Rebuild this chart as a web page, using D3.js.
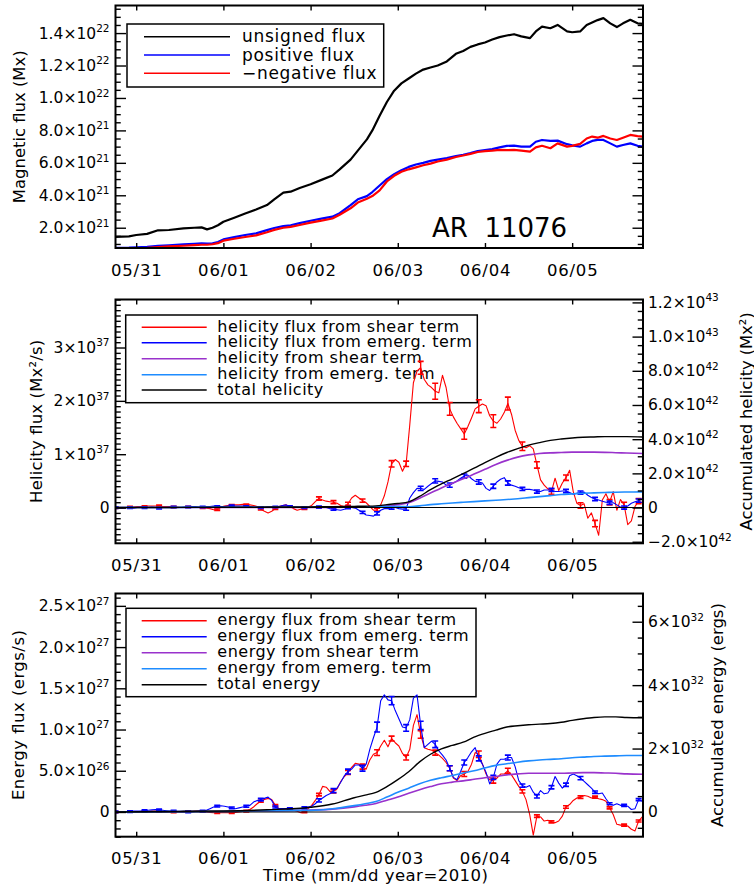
<!DOCTYPE html>
<html><head><meta charset="utf-8">
<script src="https://cdn.jsdelivr.net/npm/d3@7"></script>
<style>
html,body{margin:0;padding:0;background:#fff;}
svg{display:block;}
</style></head><body>
<svg id="chart" width="754" height="888"></svg>
<script>
// ---------------- data (time in hours from 2010-05-31 00:00) ----------------
const dayTicks  = [0, 24, 48, 72, 96, 120];
const dayLabels = ["05/31", "06/01", "06/02", "06/03", "06/04", "06/05"];

// Panel 1: magnetic flux, units of 1e21 Mx
const fluxHours = [-5.7,-2,0,3,6,9,13,16,18,19.5,21,22.5,24,27,30,33,36,38,40.5,42.5,45,48,51,54,56,59,61,63.5,65,67,69,71,73,75,77,79,81,83,85.5,88,90,92,94,96,98,100,102,104,106,108.4,110,111.7,114,116,118.6,120,122.2,124,125.5,127,128.6,130.5,132.3,134,136,138,139.5];
const unsignedFlux = [1.44,1.47,1.55,1.62,1.84,1.86,1.96,2.00,2.02,1.90, 2.00,2.15,2.37,2.62,2.88,3.12,3.40,3.75,4.16,4.22, 4.45,4.68,4.95,5.22,5.60,6.20,6.75,7.45,8.00,8.90, 9.75,10.45,10.90,11.20,11.50,11.75,11.88,12.00,12.25,12.72, 12.90,13.15,13.30,13.42,13.60,13.75,13.85,13.93,13.80,13.69, 14.10,14.40,14.30,14.50,14.10,14.05,14.10,14.50,14.65,14.80, 14.92,14.60,14.37,14.60,14.82,14.60,14.57];
const positiveFlux = [0.76,0.77,0.79,0.82,0.88,0.92,0.98,1.01,1.03,1.02, 1.04,1.12,1.28,1.42,1.55,1.65,1.85,1.98,2.10,2.15, 2.28,2.43,2.56,2.68,2.90,3.40,3.75,3.95,4.20,4.60, 5.00,5.30,5.55,5.75,5.90,6.00,6.12,6.20,6.30,6.42, 6.50,6.60,6.72,6.78,6.85,6.95,7.05,7.06,7.00,7.00, 7.30,7.41,7.35,7.37,7.15,7.08,7.00,7.20,7.35,7.42, 7.41,7.20,7.00,7.10,7.20,7.05,7.00];
const negativeFlux = [0.70,0.72,0.73,0.76,0.81,0.85,0.89,0.93,0.95,0.95, 0.98,1.05,1.20,1.32,1.43,1.53,1.72,1.87,2.00,2.05, 2.17,2.31,2.44,2.57,2.80,3.20,3.55,3.78,3.95,4.30, 4.85,5.20,5.45,5.60,5.72,5.85,5.95,6.08,6.20,6.36, 6.45,6.55,6.67,6.72,6.75,6.80,6.78,6.80,6.75,6.69, 6.95,7.05,6.90,7.20,7.00,7.05,7.17,7.50,7.62,7.55, 7.66,7.50,7.41,7.55,7.72,7.65,7.62];

// Hourly rate series start here; error bars on every 4th sample
const rateStart = -5.7;
const errStep = 4;

// Panel 2: helicity flux, units of 1e37 Mx^2/s
const helShearRate = [0.00,-0.01,-0.01,0.00,0.01,0.01,0.02,0.02,0.02,0.03, 0.03,0.03,0.03,0.02,0.02,0.02,0.01,0.01,0.00,0.00, 0.01,0.00,0.00,0.00,0.00,-0.01,-0.02,-0.04,-0.04,0.01, 0.03,0.04,0.04,0.05,0.05,0.06,0.05,0.05,0.04,0.02, -0.03,-0.07,-0.10,-0.07,-0.02,0.02,0.04,0.05,0.02,-0.02, -0.05,-0.03,-0.02,0.01,0.04,0.11,0.17,0.14,0.12,0.11, 0.10,0.08,0.04,0.02,0.07,0.18,0.23,0.18,0.13,0.09, 0.02,-0.05,-0.04,0.05,0.22,0.48,0.82,0.90,0.85,0.68, 0.82,1.55,2.34,2.56,2.62,2.40,2.30,2.25,2.18,2.15, 2.48,2.25,1.85,1.70,1.58,1.48,1.38,1.52,1.68,1.85, 1.90,1.94,1.91,1.72,1.62,1.58,1.66,1.78,1.95,1.75, 1.45,1.26,1.15,1.12,1.16,1.10,0.80,0.52,0.42,0.35, 0.30,0.55,0.32,0.46,0.56,0.70,0.30,0.08,0.04,0.07, -0.20,-0.10,-0.30,-0.52,0.14,0.26,0.10,0.30,-0.05,0.15, 0.05,-0.32,-0.25,0.02,0.12,0.09];
const helEmergRate = [0.00,-0.01,-0.01,0.00,0.00,-0.01,0.00,0.01,0.00,0.00, 0.01,0.00,-0.01,0.00,0.00,0.01,0.01,0.00,0.00,0.01, 0.01,0.02,0.02,0.01,0.01,0.02,0.02,0.03,0.02,0.02, 0.02,0.03,0.03,0.03,0.03,0.03,0.02,0.02,0.01,0.01, 0.00,0.00,0.01,0.01,0.01,0.02,0.04,0.05,0.02,0.00, 0.00,0.00,0.00,0.00,0.00,0.01,0.01,0.01,0.00,-0.02, -0.03,-0.04,-0.05,-0.03,0.00,0.00,-0.01,-0.05,-0.09,-0.14, -0.15,-0.16,-0.11,-0.05,-0.02,-0.02,0.00,0.00,-0.02,-0.03, -0.02,0.18,0.28,0.36,0.36,0.34,0.40,0.45,0.50,0.49, 0.48,0.42,0.42,0.46,0.50,0.55,0.59,0.61,0.54,0.49, 0.48,0.46,0.36,0.32,0.40,0.48,0.53,0.56,0.46,0.42, 0.40,0.37,0.35,0.34,0.34,0.33,0.30,0.30,0.33,0.33, 0.33,0.30,0.30,0.31,0.31,0.28,0.25,0.27,0.28,0.29, 0.23,0.19,0.16,0.14,0.12,0.10,0.09,0.09,0.05,0.01, 0.00,0.03,0.08,0.11,0.13,0.16];
const helShearErr = [0.015,0.015,0.015,0.015,0.015,0.015,0.015,0.015,0.015,0.015,0.015,0.015,0.015,0.015, 0.03,0.03,0.03,0.03,0.03,0.06,0.05,0.12,0.15,0.12,0.10,0.12,0.12,0.12,0.08,0.06,0.05,0.05,0.05,0.06,0.05,0.05,0.05];
const helEmergErr = [0.015,0.015,0.015,0.015,0.015,0.015,0.015,0.015,0.015,0.015,0.015,0.015,0.015,0.015, 0.02,0.02,0.02,0.02,0.03,0.03,0.03,0.04,0.04,0.04,0.04,0.04,0.04,0.04,0.03,0.03,0.03,0.03,0.03,0.03,0.03,0.03,0.03];

// Accumulated quantities sampled at these hours
const accHours = [-5.7,0,12,24,36,48,54,60,63,66,69,72,75,78,81,84,87,90,93,96,99,102,105,108,111,114,117,120,123,126,129,132,135,139.5];
// units of 1e42 Mx^2
const helShearAcc = [0,0,0,0,0.01,0.01,0.01,0.02,0.03,0.05, 0.10,0.17,0.28,0.55,0.85,1.15,1.42,1.68,1.96,2.24, 2.52,2.76,2.95,3.08,3.16,3.20,3.22,3.24,3.24,3.24, 3.23,3.21,3.19,3.16];
const helEmergAcc = [0,0,0.01,0.02,0.02,0.02,0.02,0.03,0.04,0.05, 0.06,0.06,0.05,0.10,0.17,0.22,0.27,0.31,0.35,0.39, 0.43,0.47,0.52,0.58,0.64,0.70,0.76,0.80,0.84,0.86, 0.88,0.90,0.91,0.92];
const helTotalAcc = [0,0,0.01,0.02,0.03,0.04,0.05,0.07,0.08,0.10, 0.17,0.24,0.33,0.65,1.05,1.38,1.68,1.99,2.30,2.63, 2.94,3.22,3.45,3.65,3.80,3.93,4.01,4.07,4.11,4.13, 4.15,4.15,4.15,4.13];

// Panel 3: energy flux, units of 1e26 erg/s
const engShearRate = [0,0,0,0.05,0.05,0,0,0.05,0.05,0.05, 0.1,0.1,0.05,0,0,0,0,0,0,0, 0.05,0.05,0.1,0.1,0.05,0,-0.05,-0.1,-0.1,-0.1, -0.1,-0.1,-0.1,-0.05,0,0.05,0.1,0.3,0.6,1.0, 1.3,1.5,1.65,1.5,0.8,0.4,0.4,0.4,0.3,0.2, 0.1,-0.1,0.0,0.4,0.8,1.4,2.1,3.1,3.0,2.5, 2.5,2.8,3.7,4.3,4.8,5.4,5.9,5.8,5.5,5.2, 6.3,7.0,7.2,8.0,8.7,7.9,8.9,8.4,8.0,7.1, 6.6,7.6,10.5,11.8,9.4,7.8,7.6,7.5,7.2,6.9, 6.5,6.0,5.3,4.1,3.8,4.4,4.6,4.9,5.8,7.2, 7.0,5.8,4.6,3.9,3.8,4.1,4.6,4.6,5.0,4.5, 3.8,3.1,2.5,1.5,-0.3,-2.8,-0.5,-0.6,-1.1,-1.0, -1.2,-1.3,-1.1,-0.5,0.6,0.9,1.4,1.7,1.8,2.0, 1.9,1.7,1.8,1.6,1.5,1.3,0.5,-0.3,-1.5,-1.6, -1.6,-1.7,-2.1,-2.3,-1.1,-0.6];
const engEmergRate = [0,0,0,0.05,0.05,0.1,0.1,0.1,0.15,0.2, 0.25,0.3,0.25,0.2,0.15,0.1,0.1,0.05,0,0, 0,0,0.05,0.1,0.1,0.2,0.4,0.6,0.7,0.75, 0.7,0.6,0.5,0.4,0.5,0.6,0.7,0.8,1.2,1.4, 1.5,1.65,1.8,1.4,0.6,0.4,0.4,0.4,0.4,0.4, 0.4,0.4,0.5,0.6,0.7,1.0,1.4,1.7,2.0,2.2, 2.6,2.9,3.6,4.4,4.9,5.2,5.7,5.7,5.3,5.8, 7.6,9.0,10.3,13.5,14.2,13.6,13.5,12.3,11.3,10.3, 10.2,11.2,13.8,14.2,10.5,7.8,8.2,8.6,8.2,7.4, 6.9,6.3,5.3,4.2,3.9,4.9,6.0,6.6,7.3,7.8, 6.5,5.8,4.8,3.4,4.2,5.8,6.4,6.4,6.6,6.6, 5.5,3.8,3.2,3.0,3.2,2.4,1.9,2.6,2.2,2.3, 3.0,4.3,3.5,2.9,3.3,4.4,4.6,4.4,4.1,3.7, 3.3,2.9,2.4,2.2,2.3,1.6,1.0,0.8,1.0,0.8, 0.8,0.7,0.3,0.4,1.5,1.3];
const engShearErr = [0.08,0.08,0.08,0.08,0.08,0.08,0.08,0.08,0.08, 0.1,0.12,0.1,0.1,0.1,0.15,0.2,0.25,0.3,0.35,0.3,0.3,0.45,0.3,0.3,0.3,0.4,0.3,0.3,0.2,0.15,0.12,0.15,0.15,0.12,0.12,0.12,0.12];
const engEmergErr = [0.1,0.1,0.1,0.1,0.1,0.1,0.1,0.1,0.1, 0.12,0.15,0.12,0.12,0.12,0.2,0.25,0.3,0.35,0.6,0.5,0.4,0.5,0.4,0.3,0.3,0.3,0.25,0.3,0.2,0.2,0.2,0.2,0.2,0.15,0.12,0.12,0.12];
// units of 1e32 erg
const engShearAcc = [0,0.002,0.01,0.015,0.03,0.06,0.09,0.16,0.21,0.27, 0.37,0.47,0.59,0.70,0.80,0.89,0.94,0.98,1.03,1.08, 1.12,1.17,1.20,1.22,1.22,1.22,1.22,1.23,1.24,1.24, 1.23,1.22,1.20,1.19];
const engEmergAcc = [0,0.003,0.01,0.015,0.04,0.05,0.10,0.20,0.26,0.33, 0.47,0.62,0.75,0.89,1.00,1.08,1.15,1.23,1.30,1.39, 1.47,1.52,1.57,1.61,1.64,1.66,1.68,1.71,1.73,1.75, 1.76,1.77,1.78,1.78];
const engTotalAcc = [0,0.005,0.02,0.03,0.07,0.15,0.25,0.45,0.53,0.62, 0.80,1.02,1.27,1.58,1.82,1.99,2.10,2.20,2.36,2.48, 2.58,2.68,2.72,2.75,2.77,2.79,2.83,2.89,2.94,2.98, 3.00,3.00,2.98,2.97];

// Axis tick values and labels ("^" marks the exponent)
const fluxTicks = [2,4,6,8,10,12,14];
const fluxTickLabels = ["2.0×10^21","4.0×10^21","6.0×10^21","8.0×10^21","1.0×10^22","1.2×10^22","1.4×10^22"];
const helRateTicks = [0,1,2,3];
const helRateTickLabels = ["0","1×10^37","2×10^37","3×10^37"];
const helAccTicks = [-2,0,2,4,6,8,10,12];
const helAccTickLabels = ["−2.0×10^42","0","2.0×10^42","4.0×10^42","6.0×10^42","8.0×10^42","1.0×10^43","1.2×10^43"];
const engRateTicks = [0,5,10,15,20,25];
const engRateTickLabels = ["0","5.0×10^26","1.0×10^27","1.5×10^27","2.0×10^27","2.5×10^27"];
const engAccTicks = [0,2,4,6];
const engAccTickLabels = ["0","2×10^32","4×10^32","6×10^32"];

// Legends
const fluxLegend = [
  {label: "unsigned flux",  color: "#000000"},
  {label: "positive flux",  color: "#0000ff"},
  {label: "−negative flux", color: "#ff0000"}
];
const helLegend = [
  {label: "helicity flux from shear term",  color: "#ff0000"},
  {label: "helicity flux from emerg. term", color: "#0000ff"},
  {label: "helicity from shear term",       color: "#9932cc"},
  {label: "helicity from emerg. term",      color: "#1e8cff"},
  {label: "total helicity",                 color: "#000000"}
];
const engLegend = [
  {label: "energy flux from shear term",  color: "#ff0000"},
  {label: "energy flux from emerg. term", color: "#0000ff"},
  {label: "energy from shear term",       color: "#9932cc"},
  {label: "energy from emerg. term",      color: "#1e8cff"},
  {label: "total energy",                 color: "#000000"}
];

// ---------------- drawing ----------------
const FONT = '"DejaVu Sans", "Liberation Sans", sans-serif';
const RED = "#ff0000", BLUE = "#0000ff", PURPLE = "#9932cc", SKY = "#1e8cff";
const svg = d3.select("#chart").attr("font-family", FONT);

const X0 = 115.5, X1 = 643;
const x = d3.scaleLinear().domain([-5.7, 139.5]).range([X0, X1]);

const P1 = {top: 5.5, bottom: 248};
const P2 = {top: 299.5, bottom: 543.3};
const P3 = {top: 593.5, bottom: 836.7};

const y1  = d3.scaleLinear().domain([0.75, 15.7]).range([P1.bottom, P1.top]);
const y2L = d3.scaleLinear().domain([-0.67, 3.9]).range([P2.bottom, P2.top]);
const y2R = d3.scaleLinear().domain([-2.09, 12.17]).range([P2.bottom, P2.top]);
const y3L = d3.scaleLinear().domain([-3.0, 26.5]).range([P3.bottom, P3.top]);
const y3R = d3.scaleLinear().domain([-0.78, 6.89]).range([P3.bottom, P3.top]);

const MAJ_Y = 10.5, MIN_Y = 5.25, MAJ_X = 5;

function styleAxis(g, size) {
  g.select(".domain").remove();
  g.attr("font-family", FONT).attr("font-size", size);
  g.selectAll(".tick line").attr("stroke", "#000").attr("stroke-width", 1.4);
  g.selectAll(".tick text").attr("fill", "#000");
}
function superscripts(g) {
  g.selectAll(".tick text").each(function () {
    const t = d3.select(this);
    const s = t.text();
    if (!s) return;
    const parts = s.split("^");
    t.text(null);
    t.append("tspan").text(parts[0]);
    if (parts[1]) t.append("tspan").attr("font-size", 10.5).attr("dy", -6.5).text(parts[1]);
  });
}

function clip(id, p) {
  svg.append("clipPath").attr("id", id).append("rect")
    .attr("x", X0).attr("y", p.top).attr("width", X1 - X0).attr("height", p.bottom - p.top);
}

function timeAxes(p) {
  const gb = svg.append("g").attr("transform", `translate(0,${p.bottom})`)
    .call(d3.axisBottom(x).tickValues(dayTicks).tickFormat((d, i) => dayLabels[i])
      .tickSizeInner(-MAJ_X).tickSizeOuter(0).tickPadding(16));
  styleAxis(gb, 16.5);
  gb.selectAll(".tick text").attr("letter-spacing", 0.8);
  const gt = svg.append("g").attr("transform", `translate(0,${p.top})`)
    .call(d3.axisTop(x).tickValues(dayTicks).tickFormat("").tickSizeInner(-MAJ_X).tickSizeOuter(0));
  styleAxis(gt, 10);
}

function valueAxis(side, scale, majors, labels, minors, showLabels) {
  const make = side === "left" ? d3.axisLeft : d3.axisRight;
  const xpos = side === "left" ? X0 : X1;
  const gm = svg.append("g").attr("transform", `translate(${xpos},0)`)
    .call(make(scale).tickValues(minors.filter(v => !majors.includes(v)))
      .tickFormat("").tickSizeInner(-MIN_Y).tickSizeOuter(0));
  styleAxis(gm, 10);
  const g = svg.append("g").attr("transform", `translate(${xpos},0)`)
    .call(make(scale).tickValues(majors).tickFormat((d, i) => showLabels ? labels[i] : "")
      .tickSizeInner(-MAJ_Y).tickSizeOuter(0).tickPadding(side === "left" ? 6 : 5));
  styleAxis(g, 15.5);
  superscripts(g);
}

function frame(p) {
  svg.append("rect").attr("x", X0).attr("y", p.top).attr("width", X1 - X0).attr("height", p.bottom - p.top)
    .attr("fill", "none").attr("stroke", "#000").attr("stroke-width", 2);
}

function seriesLine(xs, ys, scale, color, width, clipId, smooth) {
  const gen = d3.line().x((d, i) => x(xs[i])).y(d => scale(d));
  if (smooth) gen.curve(d3.curveMonotoneX);
  svg.append("path").datum(ys).attr("d", gen)
    .attr("fill", "none").attr("stroke", color).attr("stroke-width", width)
    .attr("stroke-linejoin", "round").attr("clip-path", `url(#${clipId})`);
}

function rateLine(values, scale, color, clipId) {
  const hours = values.map((v, i) => rateStart + i);
  seriesLine(hours, values, scale, color, 1.1, clipId, false);
}

function errorBars(values, errs, scale, color, clipId) {
  const g = svg.append("g").attr("stroke", color).attr("clip-path", `url(#${clipId})`);
  const bars = g.selectAll("g").data(errs).join("g")
    .attr("transform", (e, i) => `translate(${x(rateStart + i * errStep)},0)`);
  bars.append("line").attr("y1", (e, i) => scale(values[i * errStep] - e))
    .attr("y2", (e, i) => scale(values[i * errStep] + e)).attr("stroke-width", 1.4);
  bars.append("line").attr("x1", -3).attr("x2", 3)
    .attr("y1", (e, i) => scale(values[i * errStep] - e)).attr("y2", (e, i) => scale(values[i * errStep] - e))
    .attr("stroke-width", 1.6);
  bars.append("line").attr("x1", -3).attr("x2", 3)
    .attr("y1", (e, i) => scale(values[i * errStep] + e)).attr("y2", (e, i) => scale(values[i * errStep] + e))
    .attr("stroke-width", 1.6);
}

function zeroLine(scale) {
  svg.append("line").attr("x1", X0).attr("x2", X1).attr("y1", scale(0)).attr("y2", scale(0))
    .attr("stroke", "#000").attr("stroke-width", 1.1);
}

// Legend box is unfilled so data drawn afterwards shows through it
function legend(entries, box, rowY, lineX, textX, size, spacing, dyText, lw) {
  svg.append("rect").attr("x", box[0]).attr("y", box[1]).attr("width", box[2] - box[0]).attr("height", box[3] - box[1])
    .attr("fill", "none").attr("stroke", "#000").attr("stroke-width", 1.5);
  const rows = svg.append("g").selectAll("g").data(entries).join("g")
    .attr("transform", (d, i) => `translate(0,${rowY[i]})`);
  rows.append("line").attr("x1", lineX[0]).attr("x2", lineX[1]).attr("y1", 0).attr("y2", 0)
    .attr("stroke", d => d.color).attr("stroke-width", lw);
  rows.append("text").attr("x", textX).attr("y", dyText).attr("font-size", size)
    .attr("letter-spacing", spacing).attr("fill", "#000").text(d => d.label);
}

function verticalTitle(text, xBase, yMid, len) {
  svg.append("text").attr("transform", `translate(${xBase},${yMid}) rotate(-90)`)
    .attr("text-anchor", "middle").attr("font-size", 16.5).attr("fill", "#000")
    .attr("textLength", len).attr("lengthAdjust", "spacing").text(text);
}

const half = h => d3.range(Math.round(h[0] * 2), Math.round(h[1] * 2) + 1).map(v => v / 2);
const tenth = h => d3.range(Math.round(h[0] * 10), Math.round(h[1] * 10) + 1).map(v => v / 10);

// ---- panel 1: magnetic flux ----
clip("c1", P1);
legend(fluxLegend, [127, 24, 383.7, 87], [36.7, 55, 73.3], [144, 230], 242, 17, 0.7, 5.5, 1.6);
seriesLine(fluxHours, unsignedFlux, y1, "#000", 2.2, "c1");
seriesLine(fluxHours, positiveFlux, y1, BLUE, 2.2, "c1");
seriesLine(fluxHours, negativeFlux, y1, RED, 2.2, "c1");
valueAxis("left", y1, fluxTicks, fluxTickLabels, half([1, 15.5]), true);
valueAxis("right", y1, fluxTicks, fluxTickLabels, half([1, 15.5]), false);
timeAxes(P1);
frame(P1);
svg.append("text").attr("x", 432).attr("y", 237.3).attr("font-size", 26).attr("fill", "#000")
  .text("AR\u00a0 11076");
verticalTitle("Magnetic flux (Mx)", 24.5, (P1.top + P1.bottom) / 2, 153);

// ---- panel 2: helicity ----
clip("c2", P2);
legend(helLegend, [125.7, 315, 477.3, 402.7], [327.3, 342.8, 358.7, 374.7, 390], [141.7, 206.7], 217.3, 16, 0.5, 4.5, 1.5);
rateLine(helShearRate, y2L, RED, "c2");
errorBars(helShearRate, helShearErr, y2L, RED, "c2");
rateLine(helEmergRate, y2L, BLUE, "c2");
errorBars(helEmergRate, helEmergErr, y2L, BLUE, "c2");
seriesLine(accHours, helShearAcc, y2R, PURPLE, 1.6, "c2", true);
seriesLine(accHours, helEmergAcc, y2R, SKY, 1.6, "c2", true);
seriesLine(accHours, helTotalAcc, y2R, "#000", 1.4, "c2", true);
zeroLine(y2L);
valueAxis("left", y2L, helRateTicks, helRateTickLabels, tenth([-0.6, 3.9]), true);
valueAxis("right", y2R, helAccTicks, helAccTickLabels, half([-2, 12]), true);
timeAxes(P2);
frame(P2);
verticalTitle("Helicity flux (Mx²/s)", 41.5, (P2.top + P2.bottom) / 2, 163);
svg.append("text").attr("transform", `translate(751.5,${(P2.top + P2.bottom) / 2}) rotate(-90)`)
  .attr("text-anchor", "middle").attr("font-size", 16.5).attr("fill", "#000")
  .attr("textLength", 218).attr("lengthAdjust", "spacing").text("Accumulated helicity (Mx²)");

// ---- panel 3: energy ----
clip("c3", P3);
legend(engLegend, [126, 608.3, 476, 696.7], [620.7, 636.7, 652.7, 668.7, 684.7], [141.7, 206.7], 217.3, 16, 0.5, 4.5, 1.5);
rateLine(engShearRate, y3L, RED, "c3");
errorBars(engShearRate, engShearErr, y3L, RED, "c3");
rateLine(engEmergRate, y3L, BLUE, "c3");
errorBars(engEmergRate, engEmergErr, y3L, BLUE, "c3");
seriesLine(accHours, engShearAcc, y3R, PURPLE, 1.6, "c3", true);
seriesLine(accHours, engEmergAcc, y3R, SKY, 1.6, "c3", true);
seriesLine(accHours, engTotalAcc, y3R, "#000", 1.4, "c3", true);
zeroLine(y3L);
valueAxis("left", y3L, engRateTicks, engRateTickLabels, d3.range(-3, 27), true);
valueAxis("right", y3R, engAccTicks, engAccTickLabels, half([-0.5, 6.5]), true);
timeAxes(P3);
frame(P3);
verticalTitle("Energy flux (ergs/s)", 24, (P3.top + P3.bottom) / 2, 170);
svg.append("text").attr("transform", `translate(723,${(P3.top + P3.bottom) / 2}) rotate(-90)`)
  .attr("text-anchor", "middle").attr("font-size", 16.5).attr("fill", "#000")
  .attr("textLength", 224).attr("lengthAdjust", "spacing").text("Accumulated energy (ergs)");

svg.append("text").attr("x", 375.5).attr("y", 881).attr("text-anchor", "middle")
  .attr("font-size", 16.5).attr("fill", "#000")
  .attr("textLength", 225).attr("lengthAdjust", "spacing").text("Time (mm/dd  year=2010)");
</script>
</body></html>
